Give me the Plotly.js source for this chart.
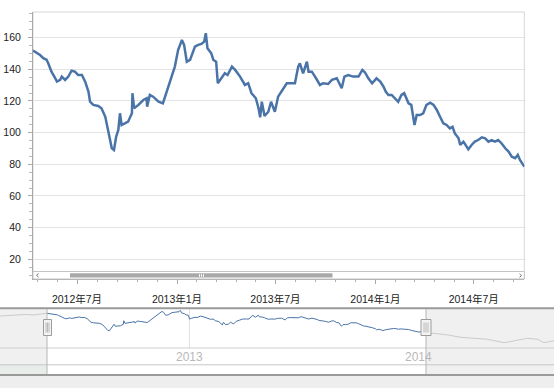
<!DOCTYPE html>
<html><head><meta charset="utf-8">
<script src="https://cdn.plot.ly/plotly-3.0.1.min.js"></script>
<style>html,body{margin:0;padding:0;background:#fff;}#c{width:554px;height:388px;}</style>
</head><body><div id="c"></div>
<script>
// main series (selected range)
const dates = ['2012-04-11','2012-04-18','2012-04-24','2012-04-30','2012-05-06','2012-05-09','2012-05-15','2012-05-22','2012-05-25','2012-05-31',
'2012-06-03','2012-06-09','2012-06-15','2012-06-21','2012-06-27','2012-07-03','2012-07-10','2012-07-16','2012-07-22','2012-07-25',
'2012-07-31','2012-08-09','2012-08-15','2012-08-22','2012-08-26','2012-08-31','2012-09-03','2012-09-07','2012-09-11','2012-09-15',
'2012-09-18','2012-09-21','2012-09-27','2012-10-03','2012-10-10','2012-10-11','2012-10-14','2012-10-22','2012-10-31','2012-11-06',
'2012-11-07','2012-11-12','2012-11-18','2012-11-28','2012-12-06','2012-12-10','2012-12-16','2012-12-22','2012-12-28','2013-01-03',
'2013-01-10','2013-01-14','2013-01-19','2013-01-25','2013-01-31','2013-02-03','2013-02-09','2013-02-15','2013-02-20','2013-02-23',
'2013-02-26','2013-03-05','2013-03-09','2013-03-14','2013-03-17','2013-03-21','2013-03-30','2013-04-04','2013-04-12','2013-04-18',
'2013-04-27','2013-05-06','2013-05-12','2013-05-18','2013-05-26','2013-05-31','2013-06-03','2013-06-06','2013-06-11','2013-06-18',
'2013-06-23','2013-06-30','2013-07-06','2013-07-14','2013-07-22','2013-07-31','2013-08-06','2013-08-12','2013-08-15','2013-08-21',
'2013-08-28','2013-08-31','2013-09-06','2013-09-12','2013-09-21','2013-09-27','2013-10-06','2013-10-13','2013-10-22','2013-10-31',
'2013-11-05','2013-11-12','2013-11-21','2013-12-01','2013-12-08','2013-12-13','2013-12-19','2013-12-26','2014-01-03','2014-01-10',
'2014-01-16','2014-01-20','2014-01-25','2014-01-31','2014-02-06','2014-02-12','2014-02-18','2014-02-23','2014-03-03','2014-03-08',
'2014-03-14','2014-03-18','2014-03-24','2014-03-30','2014-04-05','2014-04-12','2014-04-18','2014-04-24','2014-04-30','2014-05-06',
'2014-05-12','2014-05-18','2014-05-23','2014-05-27','2014-06-03','2014-06-06','2014-06-12','2014-06-21','2014-06-27','2014-07-03',
'2014-07-09','2014-07-16','2014-07-22','2014-07-28','2014-08-03','2014-08-09','2014-08-15','2014-08-21','2014-08-28','2014-09-03',
'2014-09-09','2014-09-15','2014-09-20','2014-09-24','2014-10-02'];
const values = [151.8,150.5,149.0,147.0,146.0,143.8,138.5,134.3,132.2,133.3,
135.4,133.3,135.4,139.1,138.5,136.4,136.4,132.2,125.9,119.5,
117.5,116.8,115.4,110.0,103.7,95.3,90.1,89.0,97.4,101.7,
112.2,104.8,105.9,106.9,112.2,124.9,115.4,117.5,120.6,121.7,
116.4,123.8,122.7,119.5,118.5,122.7,130.1,135.4,141.7,152.2,
158.5,155.4,144.8,145.9,152.2,154.3,155.4,156.0,157.5,162.8,
153.3,150.1,145.9,144.8,131.2,133.3,137.5,136.4,141.7,139.6,
135.4,130.1,131.2,124.9,121.7,115.4,109.7,119.5,110.5,113.2,
119.5,113.2,122.7,126.9,131.2,131.2,131.2,141.7,143.8,137.5,
144.8,138.5,138.5,135.4,130.1,131.2,130.7,133.3,134.3,128.0,
135.4,136.4,135.4,135.4,139.6,138.0,134.3,131.2,134.3,132.2,
129.0,125.9,123.8,123.8,121.7,119.5,123.8,124.9,118.5,117.5,
104.8,111.1,111.1,112.2,117.5,118.9,117.5,114.3,110.0,105.9,
104.8,102.7,103.7,99.6,96.4,92.2,94.3,89.5,92.2,94.3,
95.3,97.0,96.4,94.3,95.3,94.3,95.3,93.3,90.1,88.0,
84.8,83.8,85.9,82.7,78.5];
// navigator: data outside the selected range
const beforeDates = ['2011-12-21','2012-01-14','2012-02-07','2012-02-19','2012-03-09','2012-03-25','2012-04-11'];
const beforeValues = [142.0,143.9,146.4,147.5,145.7,149.3,151.8];
const afterDates = ['2014-10-02','2014-10-21','2014-11-22','2014-12-24','2015-01-25','2015-02-25','2015-04-06','2015-04-30','2015-06-01','2015-06-25','2015-07-10','2015-08-03'];
const afterValues = [78.5,79.6,73.5,65.2,61.5,57.9,45.7,52.9,61.5,57.9,45.7,52.9];
const yTicks = [20,40,60,80,100,120,140,160];
const majorMonths = ['2012-01-01','2012-07-01','2013-01-01','2013-07-01','2014-01-01','2014-07-01','2015-01-01'];
const navLabels = ['2013','2014'];

const W=554,H=388;
const X=v=>v/W, Y=v=>1-v/H;
const FONT='"Liberation Sans","Noto Sans CJK SC",sans-serif';
const blue='#4a74a8';

// minor ticks: 5 divisions per half-year
const minorVals=[];
for(let i=0;i<majorMonths.length-1;i++){
  const a=Date.parse(majorMonths[i]), b=Date.parse(majorMonths[i+1]);
  for(let k=1;k<5;k++) minorVals.push(a+(b-a)*k/5);
}

const traces=[
 {x:dates,y:values,type:'scatter',mode:'lines',line:{color:blue,width:2.5},xaxis:'x',yaxis:'y',hoverinfo:'skip'},
 {x:beforeDates,y:beforeValues,type:'scatter',mode:'lines',line:{color:'#cbcbcb',width:1},xaxis:'x2',yaxis:'y2',hoverinfo:'skip'},
 {x:afterDates,y:afterValues,type:'scatter',mode:'lines',line:{color:'#cbcbcb',width:1},xaxis:'x2',yaxis:'y2',hoverinfo:'skip'},
 {x:dates,y:values,type:'scatter',mode:'lines',line:{color:blue,width:1},xaxis:'x2',yaxis:'y2',hoverinfo:'skip'}
];

function rect(x0,y0,x1,y1,fill,line,lw,layer){
  return {type:'rect',xref:'paper',yref:'paper',x0:X(x0),x1:X(x1),y0:Y(y1),y1:Y(y0),
    fillcolor:fill||'rgba(0,0,0,0)',line:{color:line||'rgba(0,0,0,0)',width:lw===undefined?1:lw},layer:layer||'above'};
}
function hl(y,x0,x1,c,w){return {type:'line',xref:'paper',yref:'paper',x0:X(x0),x1:X(x1),y0:Y(y),y1:Y(y),line:{color:c,width:w}};}
function vl(x,y0,y1,c,w){return {type:'line',xref:'paper',yref:'paper',x0:X(x),x1:X(x),y0:Y(y0),y1:Y(y1),line:{color:c,width:w}};}

const shapes=[
 // main plot frame
 rect(33,12,524.3,279,null,'#d6d6d6',1,'below'),
 // scrollbar
 rect(33,271.5,524.3,279,'#ffffff','#c4c4c4',1),
 rect(70,273.3,332.5,277.6,'#a9a9a9',null,0),
 vl(199.5,274.2,276.8,'#ffffff',1), vl(201.5,274.2,276.8,'#ffffff',1), vl(203.5,274.2,276.8,'#ffffff',1),
 {type:'path',xref:'paper',yref:'paper',path:`M ${X(38.5)} ${Y(273.5)} L ${X(36.5)} ${Y(275.3)} L ${X(38.5)} ${Y(277.1)}`,line:{color:'#777',width:1}},
 {type:'path',xref:'paper',yref:'paper',path:`M ${X(519.5)} ${Y(273.8)} L ${X(521.5)} ${Y(275.6)} L ${X(519.5)} ${Y(277.4)}`,line:{color:'#777',width:1}},
 // navigator
 rect(0,375,554,388,'#eeeeee',null,0,'below'),
 rect(0,309,47,374,'#f0f0f0',null,0,'below'),
 rect(426,309,554,374,'#f0f0f0',null,0,'below'),
 rect(0,365,47,374,'#e9ede9',null,0,'below'),
 hl(308.2,0,554,'#9a9a9a',2),
 hl(348,0,554,'#cfcfcf',1),
 hl(364.8,0,554,'#c6c6c6',1),
 hl(375,0,554,'#9a9a9a',2),
 vl(47,309,374,'#b5b5b5',1),
 vl(426,309,374,'#b5b5b5',1),
 // handles
 rect(43.5,319.5,51.5,335.5,'#f3f3f3','#9c9c9c',1),
 vl(46,322.5,332.5,'#b8b8b8',1), vl(47.5,322.5,332.5,'#b8b8b8',1), vl(49,322.5,332.5,'#b8b8b8',1),
 rect(421,319.5,431,335.5,'#f3f3f3','#9c9c9c',1),
 vl(424,322.5,332.5,'#b8b8b8',1), vl(426,322.5,332.5,'#b8b8b8',1), vl(428,322.5,332.5,'#b8b8b8',1)
];

const layout={
 width:W,height:H,margin:{l:0,r:0,t:0,b:0},showlegend:false,
 paper_bgcolor:'#ffffff',plot_bgcolor:'rgba(0,0,0,0)',
 font:{family:FONT,size:10,color:'#333'},
 xaxis:{type:'date',domain:[X(33),X(524.3)],anchor:'y',range:['2012-04-11','2014-10-02'],
   showgrid:false,zeroline:false,showline:true,linecolor:'#a8a8a8',linewidth:1,
   ticks:'outside',ticklen:4,tickcolor:'#a8a8a8',tickmode:'array',tickvals:majorMonths,
   ticktext:majorMonths.map(d=>{const p=d.split('-');return p[0]+'年'+parseInt(p[1])+'月';}),
   ticklabelstandoff:6,tickfont:{family:FONT,size:10.5,color:'#222'},
   minor:{tickmode:'array',tickvals:minorVals,ticks:'outside',ticklen:2,tickcolor:'#b0b0b0'}},
 yaxis:{domain:[Y(279),Y(12)],anchor:'x',range:[7.5,176.2],tickmode:'array',tickvals:yTicks,
   showgrid:true,gridcolor:'#e3e3e3',zeroline:false,showline:true,linecolor:'#a8a8a8',
   ticks:'outside',ticklen:4,tickcolor:'#a8a8a8',ticklabelstandoff:5,tickfont:{family:FONT,size:10.5,color:'#222'},
   minor:{dtick:5,tick0:0,ticks:'outside',ticklen:3,tickcolor:'#b8b8b8'}},
 xaxis2:{type:'date',domain:[0,1],anchor:'y2',range:['2011-12-21','2015-08-03'],
   showticklabels:false,ticks:'',zeroline:false,showline:false,
   tickmode:'array',tickvals:['2013-03-18'],showgrid:true,gridcolor:'#e2e2e2'},
 yaxis2:{domain:[Y(348),Y(309)],anchor:'x2',range:[26.5,167.3],visible:false},
 shapes:shapes,
 annotations:[
  {xref:'paper',yref:'paper',x:X(189),y:Y(357),text:navLabels[0],showarrow:false,font:{family:FONT,size:12,color:'#b8b8b8'},xanchor:'center',yanchor:'middle'},
  {xref:'paper',yref:'paper',x:X(418),y:Y(357),text:navLabels[1],showarrow:false,font:{family:FONT,size:12,color:'#b8b8b8'},xanchor:'center',yanchor:'middle'}
 ]
};
Plotly.newPlot('c',traces,layout,{displayModeBar:false,staticPlot:true});
</script></body></html>
